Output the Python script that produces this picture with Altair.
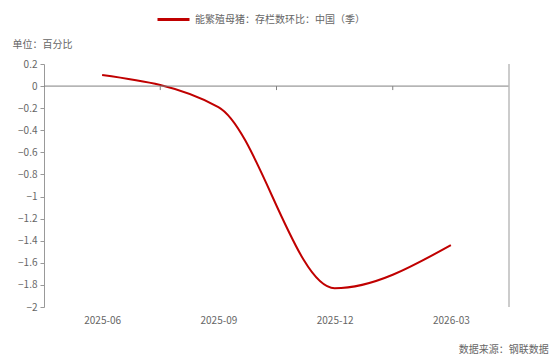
import altair as alt
import pandas as pd

# Quarterly series: sow inventory, quarter-on-quarter change (%)
periods = ["2025-06", "2025-09", "2025-12", "2026-03"]
values = [0.10, -0.19, -1.83, -1.44]
series_name = "能繁殖母猪：存栏数环比：中国（季）"
y_ticks = [0.2, 0, -0.2, -0.4, -0.6, -0.8, -1, -1.2, -1.4, -1.6, -1.8, -2]
boundaries = [0.5, 1.5, 2.5]

FONT = "Noto Sans CJK SC"
GREY_TXT = "#666666"
RED = "#c00000"

df = pd.DataFrame({
    "idx": list(range(len(periods))),
    "period": periods,
    "value": values,
    "series": [series_name] * len(periods),
})

x_scale = alt.Scale(domain=[-0.5, len(periods) - 0.5], nice=False, zero=False)
y_scale = alt.Scale(domain=[-2, 0.2], nice=False, zero=False)
label_array = "[" + ",".join(f"'{p}'" for p in periods) + "]"

# Shared axis definitions so every layer merges into the same axes
x_axis = alt.Axis(
    values=list(range(len(periods))),
    labelExpr=f"{label_array}[datum.value]",
    ticks=False,
    domain=False,
    grid=False,
    title=None,
    labelPadding=8,
    labelFontSize=10,
    labelColor=GREY_TXT,
    labelFont=FONT,
)
y_axis = alt.Axis(
    values=y_ticks,
    format="~g",
    grid=False,
    labelOverlap=False,
    domainColor="#999999",
    tickColor="#999999",
    tickSize=4,
    labelFontSize=10,
    labelColor=GREY_TXT,
    labelFont=FONT,
    labelPadding=3,
    title="单位：百分比",
    titleAngle=0,
    titleX=-32,
    titleY=-20,
    titleAlign="left",
    titleBaseline="middle",
    titleFontSize=10,
    titleFontWeight="normal",
    titleColor=GREY_TXT,
    titleFont=FONT,
)

line = alt.Chart(df).mark_line(interpolate="monotone", strokeWidth=2).encode(
    x=alt.X("idx:Q", scale=x_scale, axis=x_axis),
    y=alt.Y("value:Q", scale=y_scale, axis=y_axis),
    color=alt.Color(
        "series:N",
        scale=alt.Scale(range=[RED]),
        legend=alt.Legend(
            orient="none",
            legendX=112,
            legendY=-62,
            direction="horizontal",
            title=None,
            symbolType="stroke",
            symbolStrokeWidth=3,
            symbolSize=1024,
            labelFontSize=10,
            labelColor=GREY_TXT,
            labelFont=FONT,
            labelLimit=500,
        ),
    ),
)

zero_line = alt.Chart(pd.DataFrame({"y": [0]})).mark_rule(
    color="#808080", strokeWidth=1
).encode(y=alt.Y("y:Q", scale=y_scale, axis=y_axis))

bticks = alt.Chart(pd.DataFrame({"x": boundaries, "y0": [0] * 3, "y1": [-0.036] * 3})).mark_rule(
    color="#808080", strokeWidth=1
).encode(
    x=alt.X("x:Q", scale=x_scale, axis=x_axis),
    y=alt.Y("y0:Q", scale=y_scale, axis=y_axis),
    y2="y1:Q",
)

right_edge = alt.Chart(pd.DataFrame({"x": [len(periods) - 0.5], "y0": [0.2], "y1": [-2]})).mark_rule(
    color="#bbbbbb", strokeWidth=1.5
).encode(
    x=alt.X("x:Q", scale=x_scale, axis=x_axis),
    y=alt.Y("y0:Q", scale=y_scale, axis=y_axis),
    y2="y1:Q",
)

chart = alt.layer(line, zero_line, bticks, right_edge).properties(
    width=465,
    height=243,
    autosize=alt.AutoSizeParams(type="none"),
    padding={"left": 44, "top": 64, "right": 41, "bottom": 56},
    title=alt.TitleParams(
        "数据来源：钢联数据",
        orient="bottom",
        anchor="end",
        dx=39,
        offset=20,
        fontSize=10,
        fontWeight="normal",
        color=GREY_TXT,
        font=FONT,
    ),
).configure_view(strokeWidth=0)

chart.save("out.html", embed_options={"renderer": "svg", "actions": False})
